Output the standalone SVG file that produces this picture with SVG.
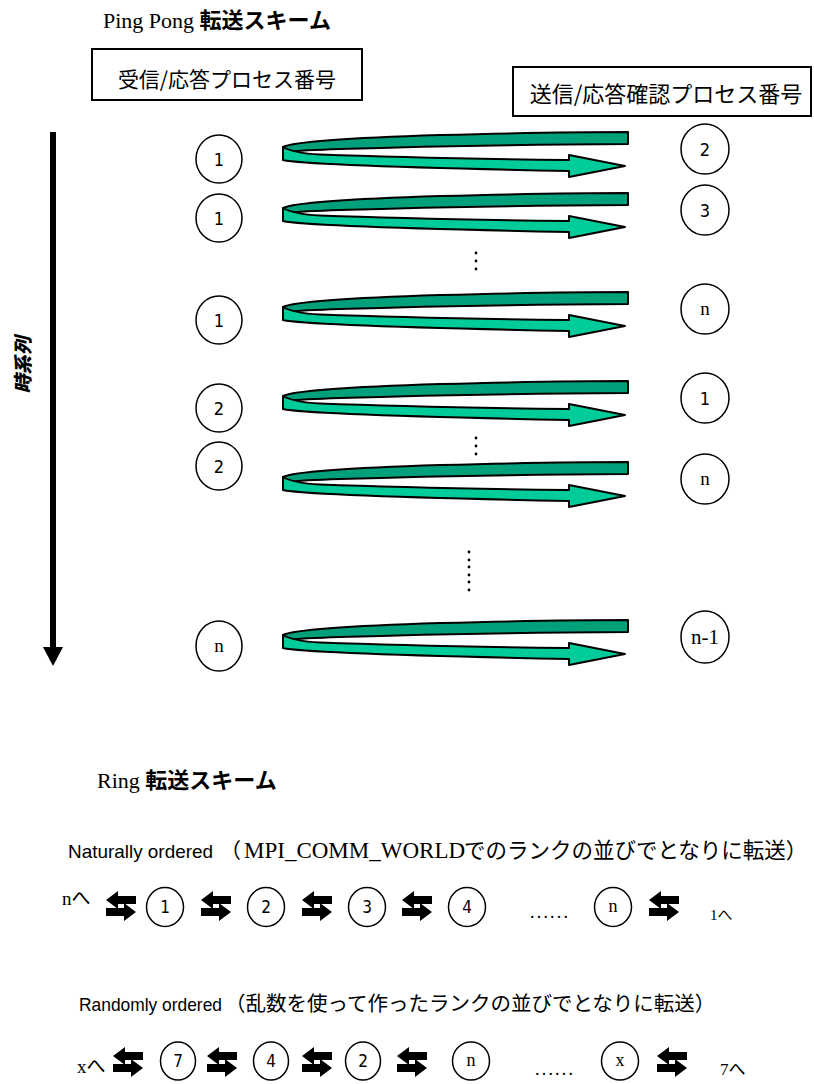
<svg xmlns="http://www.w3.org/2000/svg" xmlns:xlink="http://www.w3.org/1999/xlink" width="814" height="1084" viewBox="0 0 814 1084">
<style>
.ser{font-family:"Liberation Serif","Noto Sans CJK JP",serif}
.san{font-family:"Liberation Sans","Noto Sans CJK JP",sans-serif}
.jp{font-family:"Noto Sans CJK JP",sans-serif}
.num{font-family:"Liberation Sans Narrow","DejaVu Sans Condensed","Liberation Sans",sans-serif}
.c{fill:#fff;stroke:#000;stroke-width:1.5}
.box{fill:#fff;stroke:#000;stroke-width:2}
.dark{fill:#00A07A;stroke:#000;stroke-width:2;stroke-linejoin:round}
.light{fill:#00CC99;stroke:#000;stroke-width:2;stroke-linejoin:round}
.dot{fill:#000}
</style>
<defs>
<g id="ribbon">
<path class="dark" d="M628,-1 L628,11 C540,11.5 420,13.5 340,16 C310,17 295,18 284,19 L283,14 C295,8 360,4.5 440,2 C520,0 580,-1 628,-1 Z"/>
<path class="light" d="M283,14 L283,27 C300,31 420,35 569,38 L569,44 L625,33 L569,22 L569,27 C450,25.5 360,23 320,21.5 C300,20.5 290,18 283,14 Z"/>
</g>
<g id="swap">
<polygon points="0,9 12,0 12,5 30,5 30,13 12,13 12,18" fill="#000"/>
<polygon points="0,17 18,17 18,12 30,21 18,30 18,25 0,25" fill="#000"/>
</g>
</defs>

<!-- titles -->
<text class="ser" x="103" y="28" font-size="22">Ping Pong <tspan class="jp" font-weight="bold">転送スキーム</tspan></text>
<g id="box-recv">
<rect class="box" x="92" y="49" width="270" height="51"/>
<text class="jp" x="227" y="87" font-size="21" text-anchor="middle">受信/応答プロセス番号</text>
</g>
<g id="box-send">
<rect class="box" x="513" y="67" width="298" height="49"/>
<text class="jp" x="666" y="102" font-size="22" text-anchor="middle">送信/応答確認プロセス番号</text>
</g>

<!-- time axis -->
<g id="time-axis">
<rect x="50" y="132" width="6" height="516" fill="#000"/>
<polygon points="43,647 63,647 53,666" fill="#000"/>
<text class="jp" transform="translate(30,365) rotate(-90)" font-size="19" font-weight="900" font-style="italic" text-anchor="middle">時系列</text>
</g>

<!-- connectors -->
<g id="connectors">
<use xlink:href="#ribbon" transform="translate(0,133)"/>
<use xlink:href="#ribbon" transform="translate(0,194)"/>
<use xlink:href="#ribbon" transform="translate(0,293)"/>
<use xlink:href="#ribbon" transform="translate(0,382)"/>
<use xlink:href="#ribbon" transform="translate(0,463)"/>
<use xlink:href="#ribbon" transform="translate(0,621)"/>
</g>

<!-- vertical dots -->
<g id="dots">
<circle class="dot" cx="476" cy="253" r="1.4"/><circle class="dot" cx="476" cy="261" r="1.4"/><circle class="dot" cx="476" cy="269" r="1.4"/>
<circle class="dot" cx="476" cy="438" r="1.4"/><circle class="dot" cx="476" cy="446" r="1.4"/><circle class="dot" cx="476" cy="454" r="1.4"/>
<circle class="dot" cx="469" cy="552" r="1.4"/><circle class="dot" cx="469" cy="560" r="1.4"/><circle class="dot" cx="469" cy="567" r="1.4"/><circle class="dot" cx="469" cy="575" r="1.4"/><circle class="dot" cx="469" cy="582" r="1.4"/><circle class="dot" cx="469" cy="590" r="1.4"/>
</g>

<!-- ping pong nodes left -->
<g id="pl1"><ellipse class="c" cx="219" cy="159" rx="23" ry="24"/><text class="num" x="219" y="165.5" font-size="18" text-anchor="middle">1</text></g>
<g id="pl2"><ellipse class="c" cx="219" cy="218" rx="23" ry="24"/><text class="num" x="219" y="224.5" font-size="18" text-anchor="middle">1</text></g>
<g id="pl3"><ellipse class="c" cx="219" cy="320" rx="23" ry="24"/><text class="num" x="219" y="326.5" font-size="18" text-anchor="middle">1</text></g>
<g id="pl4"><ellipse class="c" cx="219" cy="408" rx="23" ry="24"/><text class="num" x="219" y="414.5" font-size="18" text-anchor="middle">2</text></g>
<g id="pl5"><ellipse class="c" cx="219" cy="466" rx="23" ry="24"/><text class="num" x="219" y="472.5" font-size="18" text-anchor="middle">2</text></g>
<g id="pl6"><ellipse class="c" cx="219" cy="646" rx="23" ry="25"/><text class="ser" x="219" y="652" font-size="19" text-anchor="middle">n</text></g>

<!-- ping pong nodes right -->
<g id="pr1"><ellipse class="c" cx="705" cy="149" rx="24" ry="25"/><text class="num" x="705" y="155.5" font-size="18" text-anchor="middle">2</text></g>
<g id="pr2"><ellipse class="c" cx="705" cy="210" rx="24" ry="25"/><text class="num" x="705" y="216.5" font-size="18" text-anchor="middle">3</text></g>
<g id="pr3"><ellipse class="c" cx="705" cy="309" rx="24" ry="25"/><text class="ser" x="705" y="315" font-size="19" text-anchor="middle">n</text></g>
<g id="pr4"><ellipse class="c" cx="705" cy="398" rx="24" ry="25"/><text class="num" x="705" y="404.5" font-size="18" text-anchor="middle">1</text></g>
<g id="pr5"><ellipse class="c" cx="705" cy="479" rx="24" ry="25"/><text class="ser" x="705" y="485" font-size="19" text-anchor="middle">n</text></g>
<g id="pr6"><ellipse class="c" cx="705" cy="637" rx="24" ry="26"/><text class="ser" x="705" y="644" font-size="21" text-anchor="middle">n-1</text></g>

<!-- Ring section -->
<text class="ser" x="97" y="788" font-size="22">Ring <tspan class="jp" font-weight="bold">転送スキーム</tspan></text>

<text class="san" x="68" y="858" font-size="19" textLength="145" lengthAdjust="spacingAndGlyphs">Naturally ordered</text>
<text class="jp" x="220" y="858" font-size="21">（</text>
<text class="ser" x="244" y="858" font-size="23">MPI_COMM_WORLD</text>
<text class="jp" x="464" y="858" font-size="21.5">でのランクの並びでとなりに転送）</text>

<g id="ring1">
<text class="ser" x="62" y="905" font-size="19">n<tspan class="jp">へ</tspan></text>
<use xlink:href="#swap" x="106" y="891"/>
<g id="r1n1"><ellipse class="c" cx="165" cy="907" rx="18.5" ry="19.5"/><text class="num" x="165" y="913" font-size="17" text-anchor="middle">1</text></g>
<use xlink:href="#swap" x="201" y="891"/>
<g id="r1n2"><ellipse class="c" cx="266" cy="907" rx="18.5" ry="19.5"/><text class="num" x="266" y="913" font-size="17" text-anchor="middle">2</text></g>
<use xlink:href="#swap" x="302" y="891"/>
<g id="r1n3"><ellipse class="c" cx="367" cy="907" rx="18.5" ry="19.5"/><text class="num" x="367" y="913" font-size="17" text-anchor="middle">3</text></g>
<use xlink:href="#swap" x="402" y="891"/>
<g id="r1n4"><ellipse class="c" cx="467" cy="907" rx="18.5" ry="19.5"/><text class="num" x="467" y="913" font-size="17" text-anchor="middle">4</text></g>
<text class="ser" x="530" y="918" font-size="18" textLength="38">......</text>
<g id="r1nn"><ellipse class="c" cx="613" cy="907" rx="18.5" ry="19.5"/><text class="ser" x="613" y="912" font-size="18" text-anchor="middle">n</text></g>
<use xlink:href="#swap" x="649" y="891"/>
<text class="ser" x="710" y="920" font-size="15">1<tspan class="jp">へ</tspan></text>
</g>

<text class="san" x="79" y="1011" font-size="19" textLength="143" lengthAdjust="spacingAndGlyphs">Randomly ordered</text>
<text class="jp" x="225" y="1011" font-size="20.5">（乱数を使って作ったランクの並びでとなりに転送）</text>

<g id="ring2">
<text class="ser" x="77" y="1073" font-size="19">x<tspan class="jp">へ</tspan></text>
<use xlink:href="#swap" x="113" y="1047"/>
<g id="r2n7"><ellipse class="c" cx="178" cy="1061" rx="17.5" ry="19"/><text class="num" x="178" y="1067" font-size="17" text-anchor="middle">7</text></g>
<use xlink:href="#swap" x="207" y="1047"/>
<g id="r2n4"><ellipse class="c" cx="271" cy="1061" rx="17.5" ry="19"/><text class="num" x="271" y="1067" font-size="17" text-anchor="middle">4</text></g>
<use xlink:href="#swap" x="302" y="1047"/>
<g id="r2n2"><ellipse class="c" cx="363" cy="1061" rx="17.5" ry="19"/><text class="num" x="363" y="1067" font-size="17" text-anchor="middle">2</text></g>
<use xlink:href="#swap" x="397" y="1047"/>
<g id="r2nn"><ellipse class="c" cx="471" cy="1061" rx="18.5" ry="19"/><text class="ser" x="471" y="1066" font-size="18" text-anchor="middle">n</text></g>
<text class="ser" x="535" y="1075" font-size="18" textLength="38">......</text>
<g id="r2nx"><ellipse class="c" cx="620" cy="1061" rx="18.5" ry="19"/><text class="ser" x="620" y="1066" font-size="18" text-anchor="middle">x</text></g>
<use xlink:href="#swap" x="657" y="1047"/>
<text class="ser" x="720" y="1075" font-size="17">7<tspan class="jp">へ</tspan></text>
</g>
</svg>
